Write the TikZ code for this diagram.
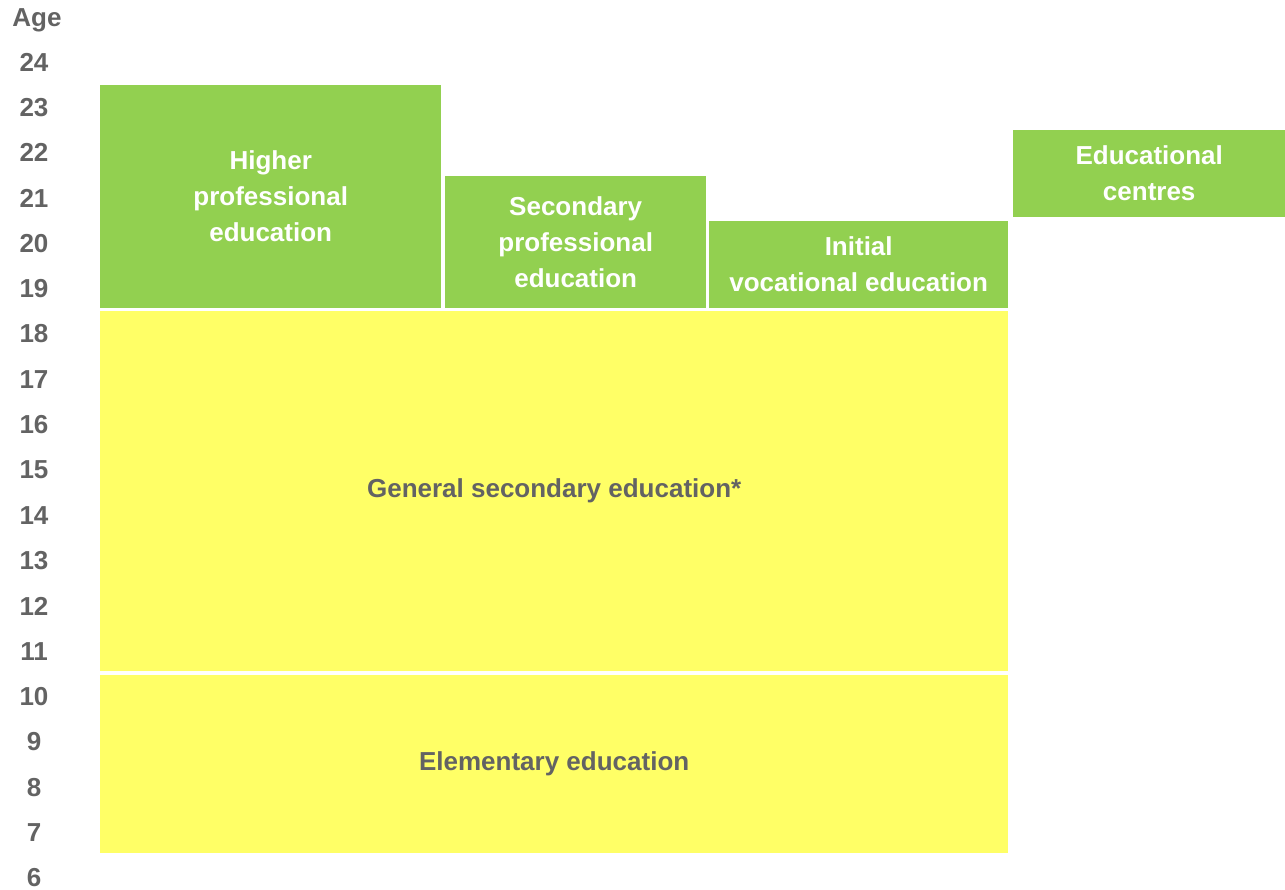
\documentclass[tikz,border=0pt]{standalone}
\usepackage{fontspec}
\setmainfont{Liberation Sans}
\usepackage{xcolor}
\usepackage{tikz}
\usetikzlibrary{positioning}
\definecolor{grn}{HTML}{92D050}
\definecolor{ylw}{HTML}{FFFF66}
\definecolor{txt}{HTML}{636363}
\tikzset{
  lvl/.style={fill=grn, text=white, align=center, inner sep=0pt, anchor=north west,
    font=\fontsize{26}{36}\selectfont\bfseries},
  sch/.style={fill=ylw, text=txt, align=center, inner sep=0pt, anchor=north west,
    font=\fontsize{26}{36}\selectfont\bfseries},
  age/.style={text=txt, font=\fontsize{26}{30}\selectfont\bfseries},
}
\begin{document}
\begin{tikzpicture}[x=1pt,y=-1pt]
  \useasboundingbox (0,0) rectangle (1285,890);
  % age axis
  \node[age] (agehead) at (37,20) {Age};
  \foreach \a in {6,...,24}
    \node[age] (age\a) at (34,{878-(\a-6)*45.33}) {\a};
  % school
  \node[sch, minimum width=908, minimum height=360] (gen) at (100,311) {General secondary education*};
  \node[sch, minimum width=908, minimum height=178] (elem) at (100,675) {Elementary education};
  % after school
  \node[lvl, minimum width=341, minimum height=223] (higher) at (100,85) {Higher\\professional\\education};
  \node[lvl, minimum width=261, minimum height=132] (secprof) at (445,176) {Secondary\\professional\\education};
  \node[lvl, minimum width=299, minimum height=87] (initvoc) at (709,221) {Initial\\vocational education};
  \node[lvl, minimum width=272, minimum height=87] (centres) at (1013,130) {Educational\\centres};
\end{tikzpicture}
\end{document}
